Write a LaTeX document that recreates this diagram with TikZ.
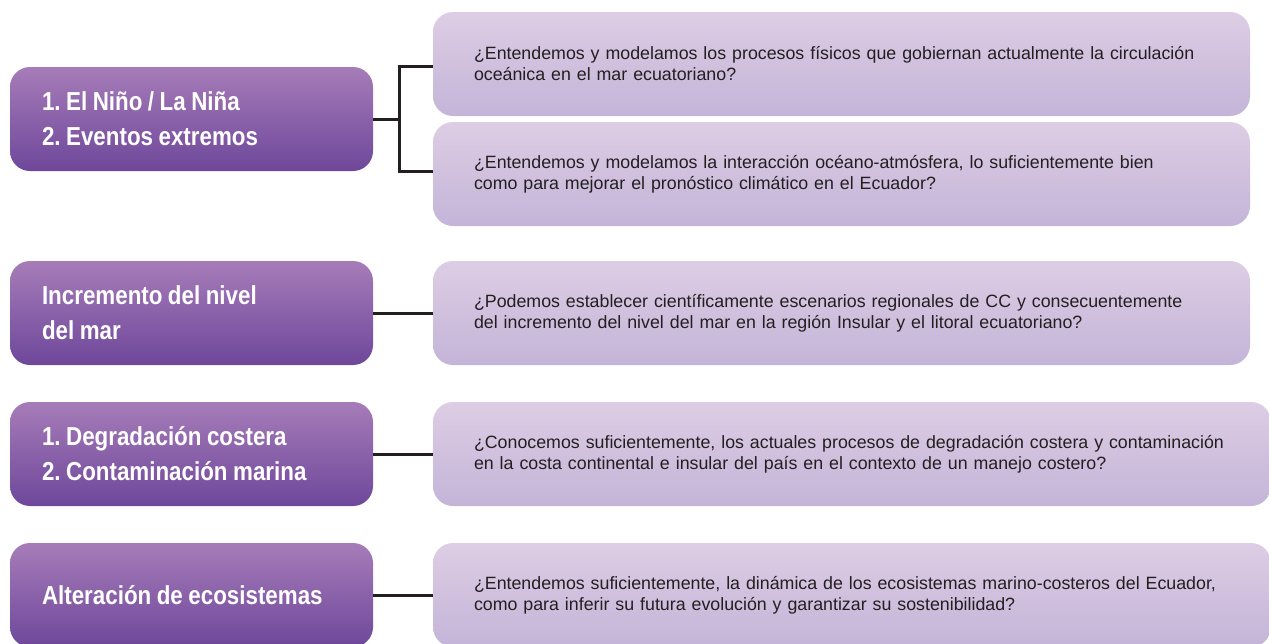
\documentclass[tikz,border=0pt]{standalone}
\usepackage{fontspec}
\setmainfont{Liberation Sans}
\newfontfamily\topicfont{Liberation Sans}[FakeStretch=0.86]
\newfontfamily\askfont{Liberation Sans}
\usetikzlibrary{calc}

\definecolor{topicTop}{RGB}{166,124,184}
\definecolor{topicBot}{RGB}{110,71,155}
\definecolor{askTop}{RGB}{221,205,228}
\definecolor{askBot}{RGB}{196,180,216}
\definecolor{inkDark}{RGB}{35,31,32}

\newcommand{\topicText}{\topicfont\bfseries\fontsize{26}{35}\selectfont\frenchspacing}
\newcommand{\askText}{\askfont\fontsize{17.8}{21}\selectfont\frenchspacing}

\begin{document}
\begin{tikzpicture}[x=1pt, y=-1pt, line join=miter]

% ---------------- styles ----------------
\tikzset{
  topicBox/.style ={rounded corners=20pt, top color=topicTop, bottom color=topicBot,
                    minimum width=363pt, minimum height=104pt, inner xsep=32pt,
                    text width=299pt, align=left, text=white, font=\topicText,
                    execute at begin node={\spaceskip=5.5pt plus 1pt minus 1pt\relax}},
  askBox/.style   ={rounded corners=20pt, top color=askTop, bottom color=askBot,
                    minimum width=817pt, minimum height=104pt, inner xsep=41pt,
                    text width=735pt, align=left, text=inkDark, font=\askText},
  askWide/.style  ={askBox, minimum width=838pt, text width=756pt},
  linkLine/.style ={draw=inkDark, line width=3pt}
}

% ---------------- parameters ----------------
\def\xTopic{191.5}  % centre of the left column
\def\xAsk{841.5}    % centre of the right column
\def\xAskW{852}     % centre of the wide boxes
\def\Fork{26}       % length of the stub before the fork

\useasboundingbox (0,0) rectangle (1269,643);

% ---------------- topics (left column) ----------------
\node[topicBox] (t1) at (\xTopic,119) {1. El Niño / La Niña\\2. Eventos extremos};
\node[topicBox] (t2) at (\xTopic,313) {Incremento del nivel\\del mar};
\node[topicBox] (t3) at (\xTopic,454) {1. Degradación costera\\2. Contaminación marina};
\node[topicBox] (t4) at (\xTopic,595) {Alteración de ecosistemas};

% ---------------- questions (right column) ----------------
\node[askBox] (q1) at (\xAsk,64)
  {¿Entendemos y modelamos los procesos físicos que gobiernan actualmente la circulación\\oceánica en el mar ecuatoriano?};
\node[askBox] (q2) at (\xAsk,174)
  {¿Entendemos y modelamos la interacción océano-atmósfera, lo suficientemente bien\\como para mejorar el pronóstico climático en el Ecuador?};
\node[askBox] (q3) at (\xAsk,313)
  {¿Podemos establecer científicamente escenarios regionales de CC y consecuentemente\\del incremento del nivel del mar en la región Insular y el litoral ecuatoriano?};
\node[askWide] (q4) at (\xAskW,454)
  {¿Conocemos suficientemente, los actuales procesos de degradación costera y contaminación\\en la costa continental e insular del país en el contexto de un manejo costero?};
\node[askWide] (q5) at (\xAskW,595)
  {¿Entendemos suficientemente, la dinámica de los ecosistemas marino-costeros del Ecuador,\\como para inferir su futura evolución y garantizar su sostenibilidad?};

% ---------------- connectors ----------------
\coordinate (fork) at ($(t1.east)+(\Fork,0)$);
\draw[linkLine] (t1.east) -- (fork);
\draw[linkLine] (q1.west |- t1.north) -| (fork) |- (q2.west |- t1.south);

\draw[linkLine] (t2.east) -- (q3.west);
\draw[linkLine] (t3.east) -- (q4.west);
\draw[linkLine] (t4.east) -- (q5.west);

\end{tikzpicture}
\end{document}
